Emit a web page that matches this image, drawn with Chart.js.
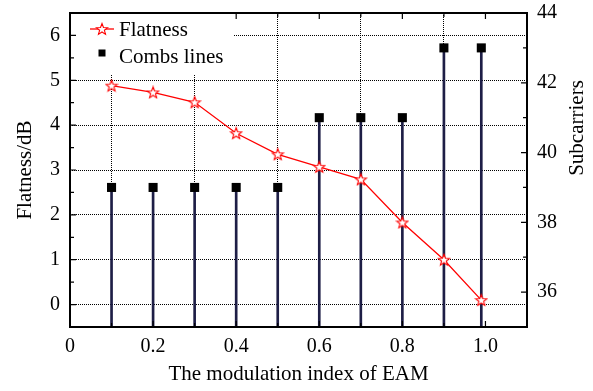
<!DOCTYPE html>
<html>
<head>
<meta charset="utf-8">
<script src="https://cdn.jsdelivr.net/npm/chart.js@4"></script>
<style>
  html, body { margin: 0; padding: 0; background: #fff; }
  #wrap { width: 593px; height: 391px; }
</style>
</head>
<body>
<div id="wrap"><canvas id="myChart" width="593" height="391"></canvas></div>
<script>
// data
const modIndex = [0.1, 0.2, 0.3, 0.4, 0.5, 0.6, 0.7, 0.8, 0.9, 0.99];
const flatness = [4.88, 4.73, 4.51, 3.82, 3.35, 3.07, 2.79, 1.83, 1.0, 0.1];
const combLines = [39, 39, 39, 39, 39, 41, 41, 41, 43, 43];
const xTicks = [0, 0.2, 0.4, 0.6, 0.8, 1.0];
const leftTicks = [0, 1, 2, 3, 4, 5, 6];
const rightTicks = [36, 38, 40, 42, 44];

const serif = "'Liberation Serif', 'Times New Roman', serif";
const red = '#ff0000';
const stemColor = '#1e1e46';

// hollow five point star used as point marker
function makeStar(size) {
    let c = document.createElement('canvas');
    c.width = size; c.height = size;
    let g = c.getContext('2d');
    let cx = size / 2, cy = size / 2 + 0.5;
    let ro = size / 2 - 1, ri = ro * 0.42;
    g.beginPath();
    for (let i = 0; i < 10; i++) {
        let r = i % 2 === 0 ? ro : ri;
        let a = -Math.PI / 2 + i * Math.PI / 5;
        let px = cx + r * Math.cos(a), py = cy + r * Math.sin(a);
        if (i === 0) g.moveTo(px, py); else g.lineTo(px, py);
    }
    g.closePath();
    g.fillStyle = '#fff';
    g.fill();
    g.strokeStyle = red;
    g.lineWidth = 1.1;
    g.stroke();
    return c;
}
const star = makeStar(14);

const toPts = (ys) => modIndex.map((x, i) => ({x: x, y: ys[i]}));

// fixed axis boxes so the plot area lands where the figure has it
const fixV = (w) => (s) => { s.width = w; s.paddingTop = 0; s.paddingBottom = 0; };
const fixH = (h) => (s) => { s.height = h; s.paddingLeft = 0; s.paddingRight = 0; };

// frame, inner tick marks, legend box and right title
const decor = {
    id: 'decor',
    beforeDatasetsDraw(chart) {
        const ctx = chart.ctx;
        ctx.save();
        ctx.fillStyle = '#fff';
        ctx.fillRect(76, 15, 158, 59);
        ctx.restore();
    },
    afterDraw(chart) {
        const {ctx, chartArea: a, scales} = chart;
        ctx.save();
        ctx.strokeStyle = '#000';
        ctx.lineWidth = 1.2;
        ctx.beginPath();
        for (let v = -0.5; v <= 6.5; v += 0.5) {
            let y = scales.y.getPixelForValue(v);
            let len = Number.isInteger(v) ? 6 : 4;
            ctx.moveTo(a.left, y); ctx.lineTo(a.left + len, y);
        }
        for (let v = 35; v <= 44; v++) {
            let y = scales.y2.getPixelForValue(v);
            let len = v % 2 === 0 ? 6 : 4;
            ctx.moveTo(a.right, y); ctx.lineTo(a.right - len, y);
        }
        for (let k = 1; k <= 10; k++) {
            let x = scales.x.getPixelForValue(k / 10);
            let len = k % 2 === 0 ? 6 : 4;
            if (x > 234) { ctx.moveTo(x, a.top); ctx.lineTo(x, a.top + len); }
            ctx.moveTo(x, a.bottom); ctx.lineTo(x, a.bottom - len);
        }
        ctx.stroke();

        ctx.lineWidth = 2;
        ctx.strokeRect(a.left, a.top, a.right - a.left, a.bottom - a.top);

        // legend
        ctx.strokeStyle = red;
        ctx.lineWidth = 1.3;
        ctx.beginPath();
        ctx.moveTo(90, 29); ctx.lineTo(114, 29);
        ctx.stroke();
        ctx.drawImage(star, 102 - 7, 29 - 7);
        ctx.fillStyle = '#000';
        ctx.fillRect(98.5, 49.5, 7, 7);
        ctx.font = '21px ' + serif;
        ctx.textBaseline = 'alphabetic';
        ctx.textAlign = 'left';
        ctx.fillText('Flatness', 119, 36);
        ctx.fillText('Combs lines', 119, 62.5);

        // right axis title
        ctx.translate(577, 128);
        ctx.rotate(-Math.PI / 2);
        ctx.textAlign = 'center';
        ctx.textBaseline = 'middle';
        ctx.fillText('Subcarriers', 0, 0);
        ctx.restore();
    }
};

const ctx = document.getElementById('myChart');
const myChart = new Chart(ctx, {
    data: {
        datasets: [
            {
                type: 'line',
                label: 'Flatness',
                data: toPts(flatness),
                yAxisID: 'y',
                borderColor: red,
                borderWidth: 1.3,
                pointStyle: star,
                tension: 0,
                order: 0
            },
            {
                type: 'line',
                label: 'Combs lines',
                data: toPts(combLines),
                yAxisID: 'y2',
                showLine: false,
                pointStyle: 'rect',
                pointRadius: 6.4,
                pointBackgroundColor: '#000',
                pointBorderWidth: 0,
                order: 1
            },
            {
                type: 'bar',
                label: 'stems',
                data: toPts(combLines),
                yAxisID: 'y2',
                backgroundColor: stemColor,
                barThickness: 2,
                order: 2
            }
        ]
    },
    plugins: [decor],
    options: {
        responsive: false,
        animation: false,
        layout: { padding: { top: 13, left: 0, right: 0, bottom: 0 } },
        plugins: {
            legend: { display: false },
            tooltip: { enabled: false }
        },
        scales: {
            x: {
                type: 'linear',
                min: 0,
                max: 1.1,
                offset: false,
                afterFit: fixH(64),
                afterBuildTicks: (s) => { s.ticks = xTicks.map(v => ({value: v})); },
                ticks: {
                    padding: 8,
                    color: '#000',
                    font: { family: serif, size: 20 },
                    callback: (v) => v === 0 ? '0' : v.toFixed(1)
                },
                grid: { color: '#000', lineWidth: 1, drawTicks: false },
                border: { display: false, dash: [1, 1] },
                title: {
                    display: true,
                    text: 'The modulation index of EAM',
                    color: '#000',
                    font: { family: serif, size: 21 },
                    padding: { top: 0, bottom: 4 }
                }
            },
            y: {
                position: 'left',
                min: -0.5,
                max: 6.5,
                afterFit: fixV(70),
                afterBuildTicks: (s) => { s.ticks = leftTicks.map(v => ({value: v})); },
                ticks: {
                    padding: 10,
                    color: '#000',
                    font: { family: serif, size: 20 }
                },
                grid: { color: '#000', lineWidth: 1, drawTicks: false },
                border: { display: false, dash: [1, 1] },
                title: {
                    display: true,
                    text: 'Flatness/dB',
                    color: '#000',
                    font: { family: serif, size: 21 },
                    padding: { top: 13, bottom: 0 }
                }
            },
            y2: {
                position: 'right',
                min: 35,
                max: 44,
                afterFit: fixV(66),
                afterBuildTicks: (s) => { s.ticks = rightTicks.map(v => ({value: v})); },
                ticks: {
                    padding: 10,
                    color: '#000',
                    font: { family: serif, size: 20 }
                },
                grid: { display: false, drawTicks: false },
                border: { display: false }
            }
        }
    }
});
</script>
</body>
</html>
